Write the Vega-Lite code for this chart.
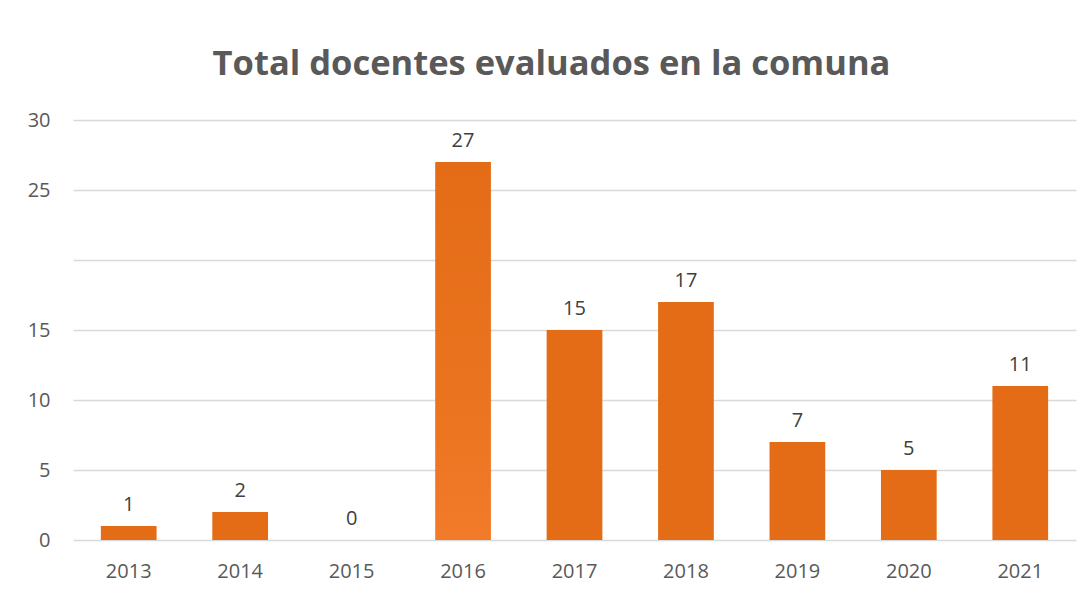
{
  "$schema": "https://vega.github.io/schema/vega-lite/v6.json",
  "autosize": {"type": "none"},
  "width": 1003,
  "height": 420,
  "padding": {"left": 73, "top": 120, "right": 16, "bottom": 55},
  "background": "white",
  "title": {
    "text": "Total docentes evaluados en la comuna",
    "font": "Open Sans",
    "fontSize": 34.5,
    "fontWeight": "bold",
    "color": "#595959",
    "anchor": "middle",
    "dx": -23,
    "offset": 28
  },
  "data": {
    "values": [
      {"year": "2013", "value": 1},
      {"year": "2014", "value": 2},
      {"year": "2015", "value": 0},
      {"year": "2016", "value": 27},
      {"year": "2017", "value": 15},
      {"year": "2018", "value": 17},
      {"year": "2019", "value": 7},
      {"year": "2020", "value": 5},
      {"year": "2021", "value": 11}
    ]
  },
  "encoding": {
    "x": {
      "field": "year",
      "type": "nominal",
      "scale": {"paddingInner": 0.5, "paddingOuter": 0.25},
      "axis": {
        "title": null,
        "labelAngle": 0,
        "domain": false,
        "ticks": false,
        "labelFont": "Open Sans",
        "labelFontSize": 20,
        "labelColor": "#595959",
        "labelPadding": 21
      }
    },
    "y": {
      "field": "value",
      "type": "quantitative",
      "scale": {"domain": [0, 30], "nice": false},
      "axis": {
        "title": null,
        "values": [0, 5, 10, 15, 20, 25, 30],
        "labelExpr": "datum.value == 20 ? '' : datum.label",
        "domain": false,
        "ticks": false,
        "grid": true,
        "gridColor": "#D9D9D9",
        "gridWidth": 1.5,
        "labelFont": "Open Sans",
        "labelFontSize": 20,
        "labelColor": "#595959",
        "labelPadding": 23
      }
    }
  },
  "layer": [
    {
      "mark": {"type": "bar", "color": "#E46C17"},
      "encoding": {
        "color": {
          "condition": {
            "test": "datum.year == '2016'",
            "value": {
              "gradient": "linear",
              "x1": 0, "y1": 0, "x2": 0, "y2": 1,
              "stops": [
                {"offset": 0, "color": "#E46C17"},
                {"offset": 0.6, "color": "#EA731F"},
                {"offset": 1, "color": "#F27B2A"}
              ]
            }
          },
          "value": "#E46C17"
        }
      }
    },
    {
      "mark": {
        "type": "text",
        "baseline": "alphabetic",
        "dy": -15,
        "font": "Open Sans",
        "fontSize": 20,
        "color": "#404040"
      },
      "encoding": {
        "text": {"field": "value", "type": "quantitative"}
      }
    }
  ],
  "config": {
    "view": {"stroke": null}
  }
}
